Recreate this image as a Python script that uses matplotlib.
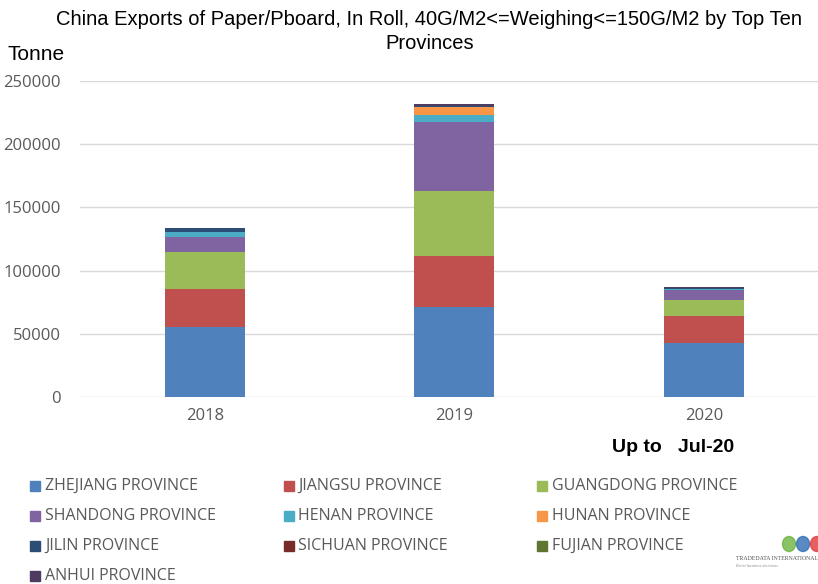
import numpy as np
import matplotlib.pyplot as plt
from matplotlib.patches import Rectangle, Ellipse

years = ['2018', '2019', '2020']
provinces = ['ZHEJIANG PROVINCE', 'JIANGSU PROVINCE', 'GUANGDONG PROVINCE',
             'SHANDONG PROVINCE', 'HENAN PROVINCE', 'HUNAN PROVINCE',
             'JILIN PROVINCE', 'SICHUAN PROVINCE', 'FUJIAN PROVINCE',
             'ANHUI PROVINCE']
colors = ['#4F81BD', '#C0504D', '#9BBB59', '#8064A2', '#4BACC6', '#F79646',
          '#2C4D75', '#772C2A', '#5F7530', '#4D3B62']

# tonnes
zhejiang = [55300, 71000, 42700]
jiangsu = [30100, 40400, 21600]
guangdong = [29300, 51500, 12400]
shandong = [12000, 54800, 7900]
henan = [3600, 5300, 800]
hunan = [300, 6300, 200]
jilin = [2800, 700, 300]
sichuan = [200, 300, 100]
fujian = [100, 200, 100]
anhui = [300, 1200, 700]

series = [zhejiang, jiangsu, guangdong, shandong, henan, hunan,
          jilin, sichuan, fujian, anhui]

fig = plt.figure(figsize=(8.18, 5.84), dpi=100)
ax = fig.add_axes([80 / 818, 187 / 584, 738 / 818, 316 / 584])

x = np.arange(len(years))
bottom = np.zeros(len(years))
for vals, c in zip(series, colors):
    ax.bar(x, vals, width=0.32, bottom=bottom, color=c, zorder=3)
    bottom += np.array(vals)

ax.set_xlim(-0.5, 2.457)
ax.set_ylim(0, 250000)
ax.set_yticks(range(0, 250001, 50000))
ax.set_xticks(x)
ax.set_xticklabels(years)
ax.grid(axis='y', color='#D9D9D9', linewidth=1, zorder=0)
for s in ['top', 'right', 'left', 'bottom']:
    ax.spines[s].set_visible(False)
ax.tick_params(length=0, labelsize=12, labelcolor='#595959')
ax.tick_params(axis='y', pad=14)
ax.tick_params(axis='x', pad=8)
for lab in ax.get_xticklabels() + ax.get_yticklabels():
    lab.set_family('Open Sans')

fig.text(0.525, 0.983, 'China Exports of Paper/Pboard, In Roll, 40G/M2<=Weighing<=150G/M2 by Top Ten\nProvinces',
         ha='center', va='top', fontsize=14.5, family='Liberation Sans', linespacing=1.35)
fig.text(8 / 818, 1 - 55 / 584, 'Tonne', ha='left', va='center', fontsize=15, family='Liberation Sans')
fig.text(612 / 818, 1 - 447 / 584, 'Up to   Jul-20', ha='left', va='center', fontsize=14,
         fontweight='bold', family='Liberation Sans')

# legend, row-major like the original
for i, (name, c) in enumerate(zip(provinces, colors)):
    row, col = i // 3, i % 3
    lx = 30 + col * 253.5
    ly = 486 + row * 30
    fig.patches.append(Rectangle((lx / 818, 1 - (ly + 5) / 584), 10 / 818, 10 / 584,
                                 transform=fig.transFigure, color=c))
    fig.text((lx + 15) / 818, 1 - ly / 584, name, ha='left', va='center',
             fontsize=11.5, color='#595959', family='Open Sans')

# logo
for cx, c in zip([789, 803, 817], ['#6DB33F', '#2F6DB5', '#E03A3A']):
    fig.patches.append(Ellipse((cx / 818, 1 - 544 / 584), 13 / 818, 15 / 584,
                               transform=fig.transFigure, color=c, alpha=0.8))
fig.text(736 / 818, 1 - 559 / 584, 'TRADEDATA INTERNATIONAL', ha='left', va='center',
         fontsize=4.2, color='#555555', family='Liberation Serif')
fig.text(736 / 818, 1 - 566 / 584, 'Better business decisions', ha='left', va='center',
         fontsize=3, color='#888888', family='Liberation Serif', style='italic')

fig.savefig('out.png', dpi=100)
